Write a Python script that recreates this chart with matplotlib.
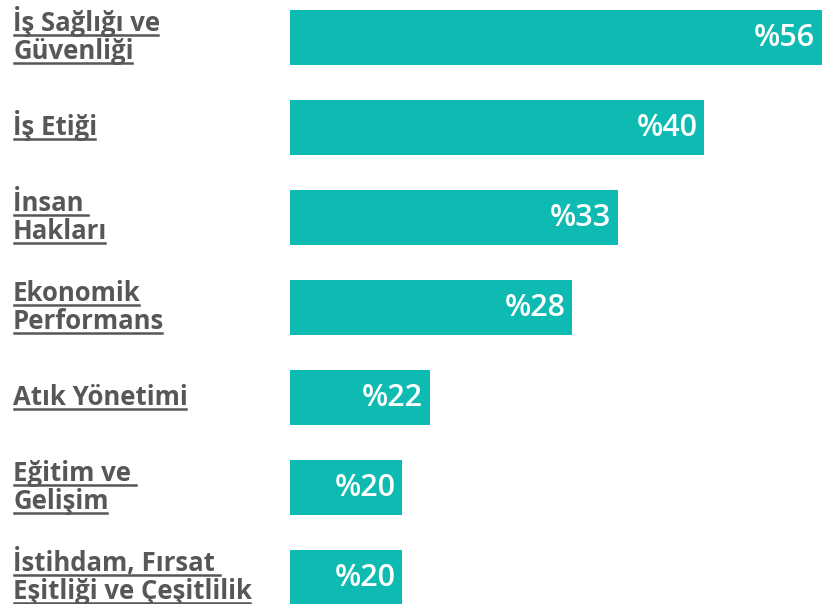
import matplotlib.pyplot as plt
from matplotlib.lines import Line2D

# Categories (top to bottom), printed percentages and bar lengths
categories = [
    "İş Sağlığı ve\nGüvenliği",
    "İş Etiği",
    "İnsan \nHakları",
    "Ekonomik\nPerformans",
    "Atık Yönetimi",
    "Eğitim ve \nGelişim",
    "İstihdam, Fırsat \nEşitliği ve Çeşitlilik",
]
percent_labels = [56, 40, 33, 28, 22, 20, 20]
bar_lengths = [56, 43.6, 34.5, 29.7, 14.7, 11.8, 11.8]

BAR_COLOR = "#0dbbb3"
TEXT_COLOR = "#575757"
W, H = 822, 604

plt.rcParams["font.family"] = ["Open Sans", "DejaVu Sans"]

fig = plt.figure(figsize=(W / 100, H / 100), dpi=100)
ax = fig.add_axes([290 / W, 0, 1 - 290 / W, 1])

pos = list(range(len(categories)))
ax.barh(pos, bar_lengths, height=55 / 90, color=BAR_COLOR, align="center")
ax.set_xlim(0, max(bar_lengths))
ax.set_ylim((H - 37.5) / 90, -37.5 / 90)
ax.axis("off")

# value labels inside the bar end
for p, length, val in zip(pos, bar_lengths, percent_labels):
    ax.text(length - 0.7, p, f"%{val}", color="white", fontsize=22,
            fontweight="semibold", ha="right", va="center")

# category labels (bold, underlined) on the left
renderer = fig.canvas.get_renderer()
pitch = 28
cap = 15
for p, cat in zip(pos, categories):
    center = 37.5 + p * 90
    lines = cat.split("\n")
    first = center - (len(lines) - 1) * pitch / 2
    for k, line in enumerate(lines):
        base = first + k * pitch + cap / 2
        t = fig.text(13 / W, 1 - base / H, line, color=TEXT_COLOR, fontsize=18.5,
                     fontweight="bold", ha="left", va="baseline")
        bb = t.get_window_extent(renderer)
        uy = 1 - (base + 4) / H
        fig.add_artist(Line2D([(bb.x0 + 1) / W, (bb.x1 - 2) / W], [uy, uy],
                              color=TEXT_COLOR, linewidth=1.8,
                              transform=fig.transFigure))

fig.savefig("out.png", dpi=100)
